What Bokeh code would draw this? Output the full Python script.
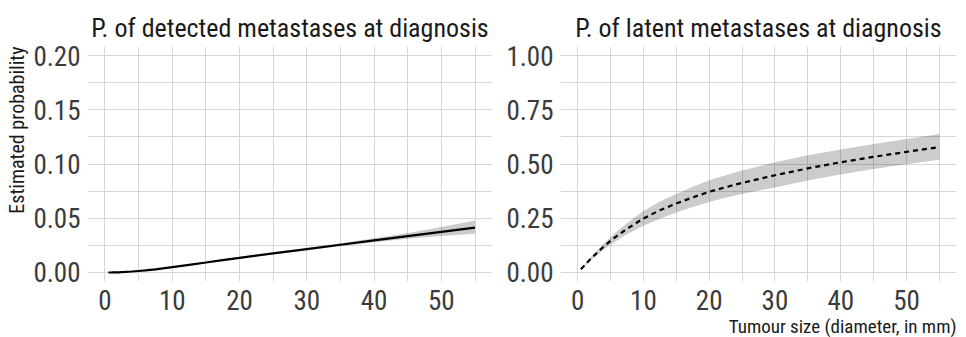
from bokeh.plotting import figure
from bokeh.layouts import row
from bokeh.models import Range1d, FixedTicker, Title
from bokeh.embed import file_html
from bokeh.resources import INLINE

# ---- data ----
det_x = [0.5, 1, 2, 3, 4, 5, 6, 7.5, 10, 12.5, 15, 17.5, 20, 25, 30, 35, 40, 45, 50, 55]
det_p = [0.0, 0.00005, 0.0002, 0.0005, 0.0009, 0.0014, 0.0019, 0.0029, 0.0050, 0.0071, 0.0092, 0.0114,
         0.0135, 0.0176, 0.0216, 0.0256, 0.0296, 0.0336, 0.0375, 0.0414]
det_lo = [0.0, 0.00004, 0.00017, 0.00045, 0.00082, 0.0013, 0.0017, 0.0026, 0.0045, 0.0065, 0.0085, 0.0107,
          0.0128, 0.0169, 0.0206, 0.0243, 0.0278, 0.0310, 0.0336, 0.0357]
det_hi = [0.0, 0.00006, 0.00023, 0.00055, 0.00098, 0.0015, 0.0021, 0.0032, 0.0055, 0.0077, 0.0099, 0.0121,
          0.0142, 0.0184, 0.0226, 0.0269, 0.0315, 0.0364, 0.0420, 0.0480]

lat_x = [0.5, 1, 1.5, 2, 3, 4, 5, 6, 7.5, 10, 12.5, 15, 17.5, 20, 22.5, 25, 30, 35, 40, 45, 50, 55]
lat_p = [0.015, 0.031, 0.047, 0.063, 0.092, 0.120, 0.146, 0.169, 0.201, 0.249, 0.287, 0.318, 0.346, 0.372,
         0.393, 0.413, 0.448, 0.480, 0.508, 0.533, 0.556, 0.578]
lat_lo = [0.013, 0.028, 0.042, 0.056, 0.082, 0.106, 0.128, 0.148, 0.176, 0.215, 0.248, 0.277, 0.302, 0.325,
          0.345, 0.362, 0.392, 0.424, 0.452, 0.477, 0.499, 0.520]
lat_hi = [0.017, 0.035, 0.053, 0.070, 0.103, 0.134, 0.163, 0.190, 0.227, 0.283, 0.327, 0.362, 0.395, 0.425,
          0.448, 0.470, 0.508, 0.540, 0.567, 0.592, 0.615, 0.638]

x_ticks = [0, 10, 20, 30, 40, 50]
x_minor = [5, 15, 25, 35, 45, 55]
det_yticks = [0.0, 0.05, 0.10, 0.15, 0.20]
det_ylabels = ["0.00", "0.05", "0.10", "0.15", "0.20"]
det_yminor = [0.025, 0.075, 0.125, 0.175]
lat_yticks = [0.0, 0.25, 0.50, 0.75, 1.00]
lat_ylabels = ["0.00", "0.25", "0.50", "0.75", "1.00"]
lat_yminor = [0.125, 0.375, 0.625, 0.875]

FONT = "Roboto Condensed, Liberation Sans Narrow, Roboto"
GRID = "#d6d6d6"
TICK_COL = "#3b3b3b"


def make_panel(title, yticks, ylabels, yminor, yr, frame_w, left_border, right_border):
    p = figure(output_backend="svg", toolbar_location=None,
               frame_width=frame_w, frame_height=235,
               min_border_left=left_border, min_border_right=right_border,
               min_border_top=46, min_border_bottom=50,
               x_range=Range1d(-2.6, 57.6), y_range=Range1d(*yr))
    p.title.text = title
    p.title.align = "center"
    p.title.text_font = FONT
    p.title.text_font_size = "26px"
    p.title.text_font_style = "normal"
    p.title.text_color = "#1a1a1a"
    p.title.standoff = 8
    p.outline_line_color = None
    p.background_fill_color = "white"
    p.border_fill_color = "white"

    p.xaxis.ticker = FixedTicker(ticks=x_ticks, minor_ticks=x_minor)
    p.yaxis.ticker = FixedTicker(ticks=yticks, minor_ticks=yminor)
    p.yaxis.major_label_overrides = {t: l for t, l in zip(yticks, ylabels)}
    p.xaxis.major_label_overrides = {t: str(t) for t in x_ticks}
    for ax in (p.xaxis, p.yaxis):
        ax.axis_line_color = None
        ax.major_tick_line_color = None
        ax.minor_tick_line_color = None
        ax.major_tick_out = 0
        ax.minor_tick_out = 0
        ax.major_label_text_font = FONT
        ax.major_label_text_font_size = "27px"
        ax.major_label_text_color = TICK_COL
    p.yaxis.major_label_standoff = 7
    p.xaxis.major_label_standoff = 8
    for g in (p.xgrid, p.ygrid):
        g.grid_line_color = GRID
        g.grid_line_width = 1
        g.minor_grid_line_color = GRID
        g.minor_grid_line_width = 1
    return p


p1 = make_panel("P. of detected metastases at diagnosis", det_yticks, det_ylabels, det_yminor,
                (-0.0083, 0.2083), 405, 80, 0)
yt = Title(text="Estimated probability", align="right", text_font=FONT,
           text_font_size="20px", text_font_style="normal", text_color="#1a1a1a",
           standoff=4)
p1.add_layout(yt, "left")
p1.varea(x=det_x, y1=det_lo, y2=det_hi, fill_color="black", fill_alpha=0.2)
p1.line(det_x, det_p, line_color="black", line_width=2.2)

p2 = make_panel("P. of latent metastases at diagnosis", lat_yticks, lat_ylabels, lat_yminor,
                (-0.0415, 1.0415), 396, 68, 1)
p2.varea(x=lat_x, y1=lat_lo, y2=lat_hi, fill_color="black", fill_alpha=0.2)
p2.line(lat_x, lat_p, line_color="black", line_width=2.2, line_dash="5 4")
xt = Title(text="Tumour size (diameter, in mm)", align="right", text_font=FONT,
           text_font_size="19px", text_font_style="normal", text_color="#1a1a1a",
           standoff=0)
p2.add_layout(xt, "below")

layout = row(p1, p2)
open("out.html", "w").write(file_html(layout, INLINE))
